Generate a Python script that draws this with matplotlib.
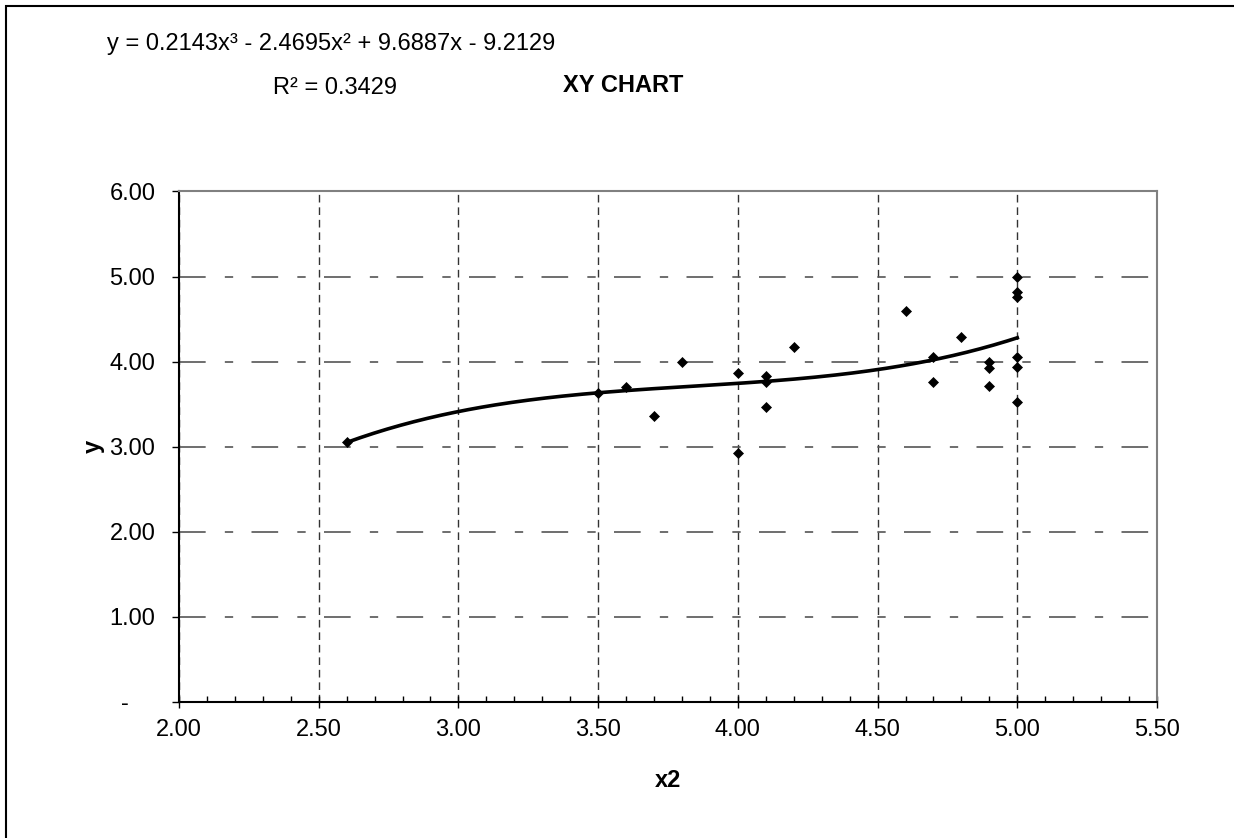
import numpy as np
import matplotlib
matplotlib.use('Agg')
import matplotlib.pyplot as plt
from matplotlib.patches import Rectangle

plt.rcParams['font.family'] = ['Liberation Sans', 'DejaVu Sans']

x2 = [2.6, 3.5, 3.6, 3.7, 3.8, 4.0, 4.0, 4.1, 4.1, 4.1, 4.2,
      4.6, 4.7, 4.7, 4.8, 4.9, 4.9, 4.9, 5.0, 5.0, 5.0, 5.0, 5.0, 5.0]
y = [3.06, 3.63, 3.70, 3.36, 4.00, 3.87, 2.93, 3.83, 3.76, 3.47, 4.17,
     4.59, 4.06, 3.76, 4.29, 4.00, 3.93, 3.71, 5.00, 4.82, 4.76, 4.06, 3.94, 3.53]

# Polynomial trendline coefficients as printed on the chart
trend_coef = [0.2143, -2.4695, 9.6887, -9.2129]
trend_label = 'y = 0.2143x\u00b3 - 2.4695x\u00b2 + 9.6887x - 9.2129'
r2_label = 'R\u00b2 = 0.3429'

x_ticks = [2.0, 2.5, 3.0, 3.5, 4.0, 4.5, 5.0, 5.5]
y_ticks = [0, 1, 2, 3, 4, 5, 6]
y_ticklabels = ['-    ', '1.00', '2.00', '3.00', '4.00', '5.00', '6.00']

W, H = 1234, 838
fig = plt.figure(figsize=(W / 100, H / 100), dpi=100)
ax = fig.add_axes([179 / W, 1 - 702 / H, (1157 - 179) / W, (702 - 191.5) / H])

# trendline over the data range
xt = np.linspace(min(x2), max(x2), 200)
ax.plot(xt, np.polyval(trend_coef, xt), color='black', lw=2.6, zorder=3)
ax.plot(x2, y, linestyle='none', marker='D', ms=5.2, mfc='black',
        mec='black', mew=0.5, zorder=4)

ax.set_xlim(2.0, 5.5)
ax.set_ylim(0, 6)
ax.set_xticks(x_ticks)
ax.set_xticklabels(['%.2f' % v for v in x_ticks])
ax.set_xticks(np.arange(2.0, 5.51, 0.1), minor=True)
ax.set_yticks(y_ticks)
ax.set_yticklabels(y_ticklabels)

ax.tick_params(axis='x', which='major', direction='inout', length=9,
               width=1, pad=8, labelsize=17)
ax.tick_params(axis='x', which='minor', direction='in', length=4, width=1)
ax.tick_params(axis='y', which='major', direction='out', length=5,
               width=1, pad=12, labelsize=17)

# gridlines: dashed verticals, dash-dot horizontals
ax.grid(axis='x', which='major', color='#333333', lw=1,
        linestyle=(0, (5.5, 3.5)), zorder=1)
ax.grid(axis='y', which='major', color='#555555', lw=1.2,
        linestyle=(0, (16, 11.5, 5, 11)), zorder=1)
ax.set_axisbelow(True)

for side in ['top', 'right']:
    ax.spines[side].set_color('#808080')
    ax.spines[side].set_linewidth(1.5)
for side in ['left', 'bottom']:
    ax.spines[side].set_color('black')
    ax.spines[side].set_linewidth(1.5)

ax.set_xlabel('x2', fontsize=17, fontweight='bold', labelpad=20)
ax.set_ylabel('y', fontsize=17, fontweight='bold', va='center')
ax.yaxis.set_label_coords((93 - 179) / 978, 0.5)

# equation text and chart title
fig.text(107 / W, 1 - 50 / H, trend_label, fontsize=17, ha='left', va='baseline')
fig.text(273 / W, 1 - 94 / H, r2_label, fontsize=17, ha='left', va='baseline')
fig.text(563 / W, 1 - 92 / H, 'XY CHART', fontsize=17, fontweight='bold',
         ha='left', va='baseline')

# outer chart frame (left and top edges visible)
fig.add_artist(Rectangle((6 / W, -0.1), 1.2, 1.1 - 6 / H, transform=fig.transFigure,
                         fill=False, edgecolor='black', lw=1.5))

fig.savefig('out.png', dpi=100)
